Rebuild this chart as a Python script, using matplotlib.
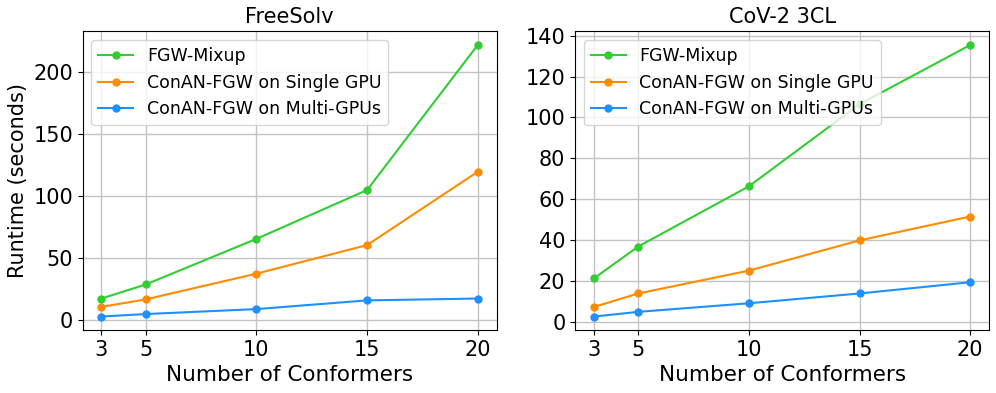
import numpy as np
import matplotlib
matplotlib.use('Agg')
import matplotlib.pyplot as plt

conformers = [3, 5, 10, 15, 20]
labels = ['FGW-Mixup', 'ConAN-FGW on Single GPU', 'ConAN-FGW on Multi-GPUs']
colors = ['limegreen', 'darkorange', 'dodgerblue']

# FreeSolv
fs_mixup = [17.5, 28.8, 65.5, 104.8, 221.5]
fs_single = [10.8, 16.8, 37.5, 60.5, 119.5]
fs_multi = [3.0, 5.0, 9.0, 16.0, 17.5]

# CoV-2 3CL
cov_mixup = [21.2, 36.8, 66.3, 106.5, 135.5]
cov_single = [7.2, 13.8, 25.0, 39.8, 51.5]
cov_multi = [2.5, 4.8, 9.0, 13.8, 19.3]

fig, axes = plt.subplots(1, 2, figsize=(9.96, 3.93), dpi=100)
plt.subplots_adjust(left=0.083, right=0.993, bottom=0.16, top=0.92, wspace=0.19)

data = [('FreeSolv', [fs_mixup, fs_single, fs_multi]),
        ('CoV-2 3CL', [cov_mixup, cov_single, cov_multi])]

for ax, (title, series) in zip(axes, data):
    for s, lab, c in zip(series, labels, colors):
        ax.plot(conformers, s, marker='o', color=c, label=lab, markersize=5, linewidth=1.5)
    ax.set_title(title, fontsize=15)
    ax.set_xlabel('Number of Conformers', fontsize=15.5)
    ax.set_xticks(conformers)
    ax.tick_params(labelsize=15)
    ax.grid(True, color='#c4c4c4', linewidth=1)
    ax.legend(fontsize=12.5, loc='upper left')

axes[0].set_ylabel('Runtime (seconds)', fontsize=15)
axes[0].set_yticks([0, 50, 100, 150, 200])
axes[1].set_yticks(np.arange(0, 141, 20))

plt.savefig('out.png')
